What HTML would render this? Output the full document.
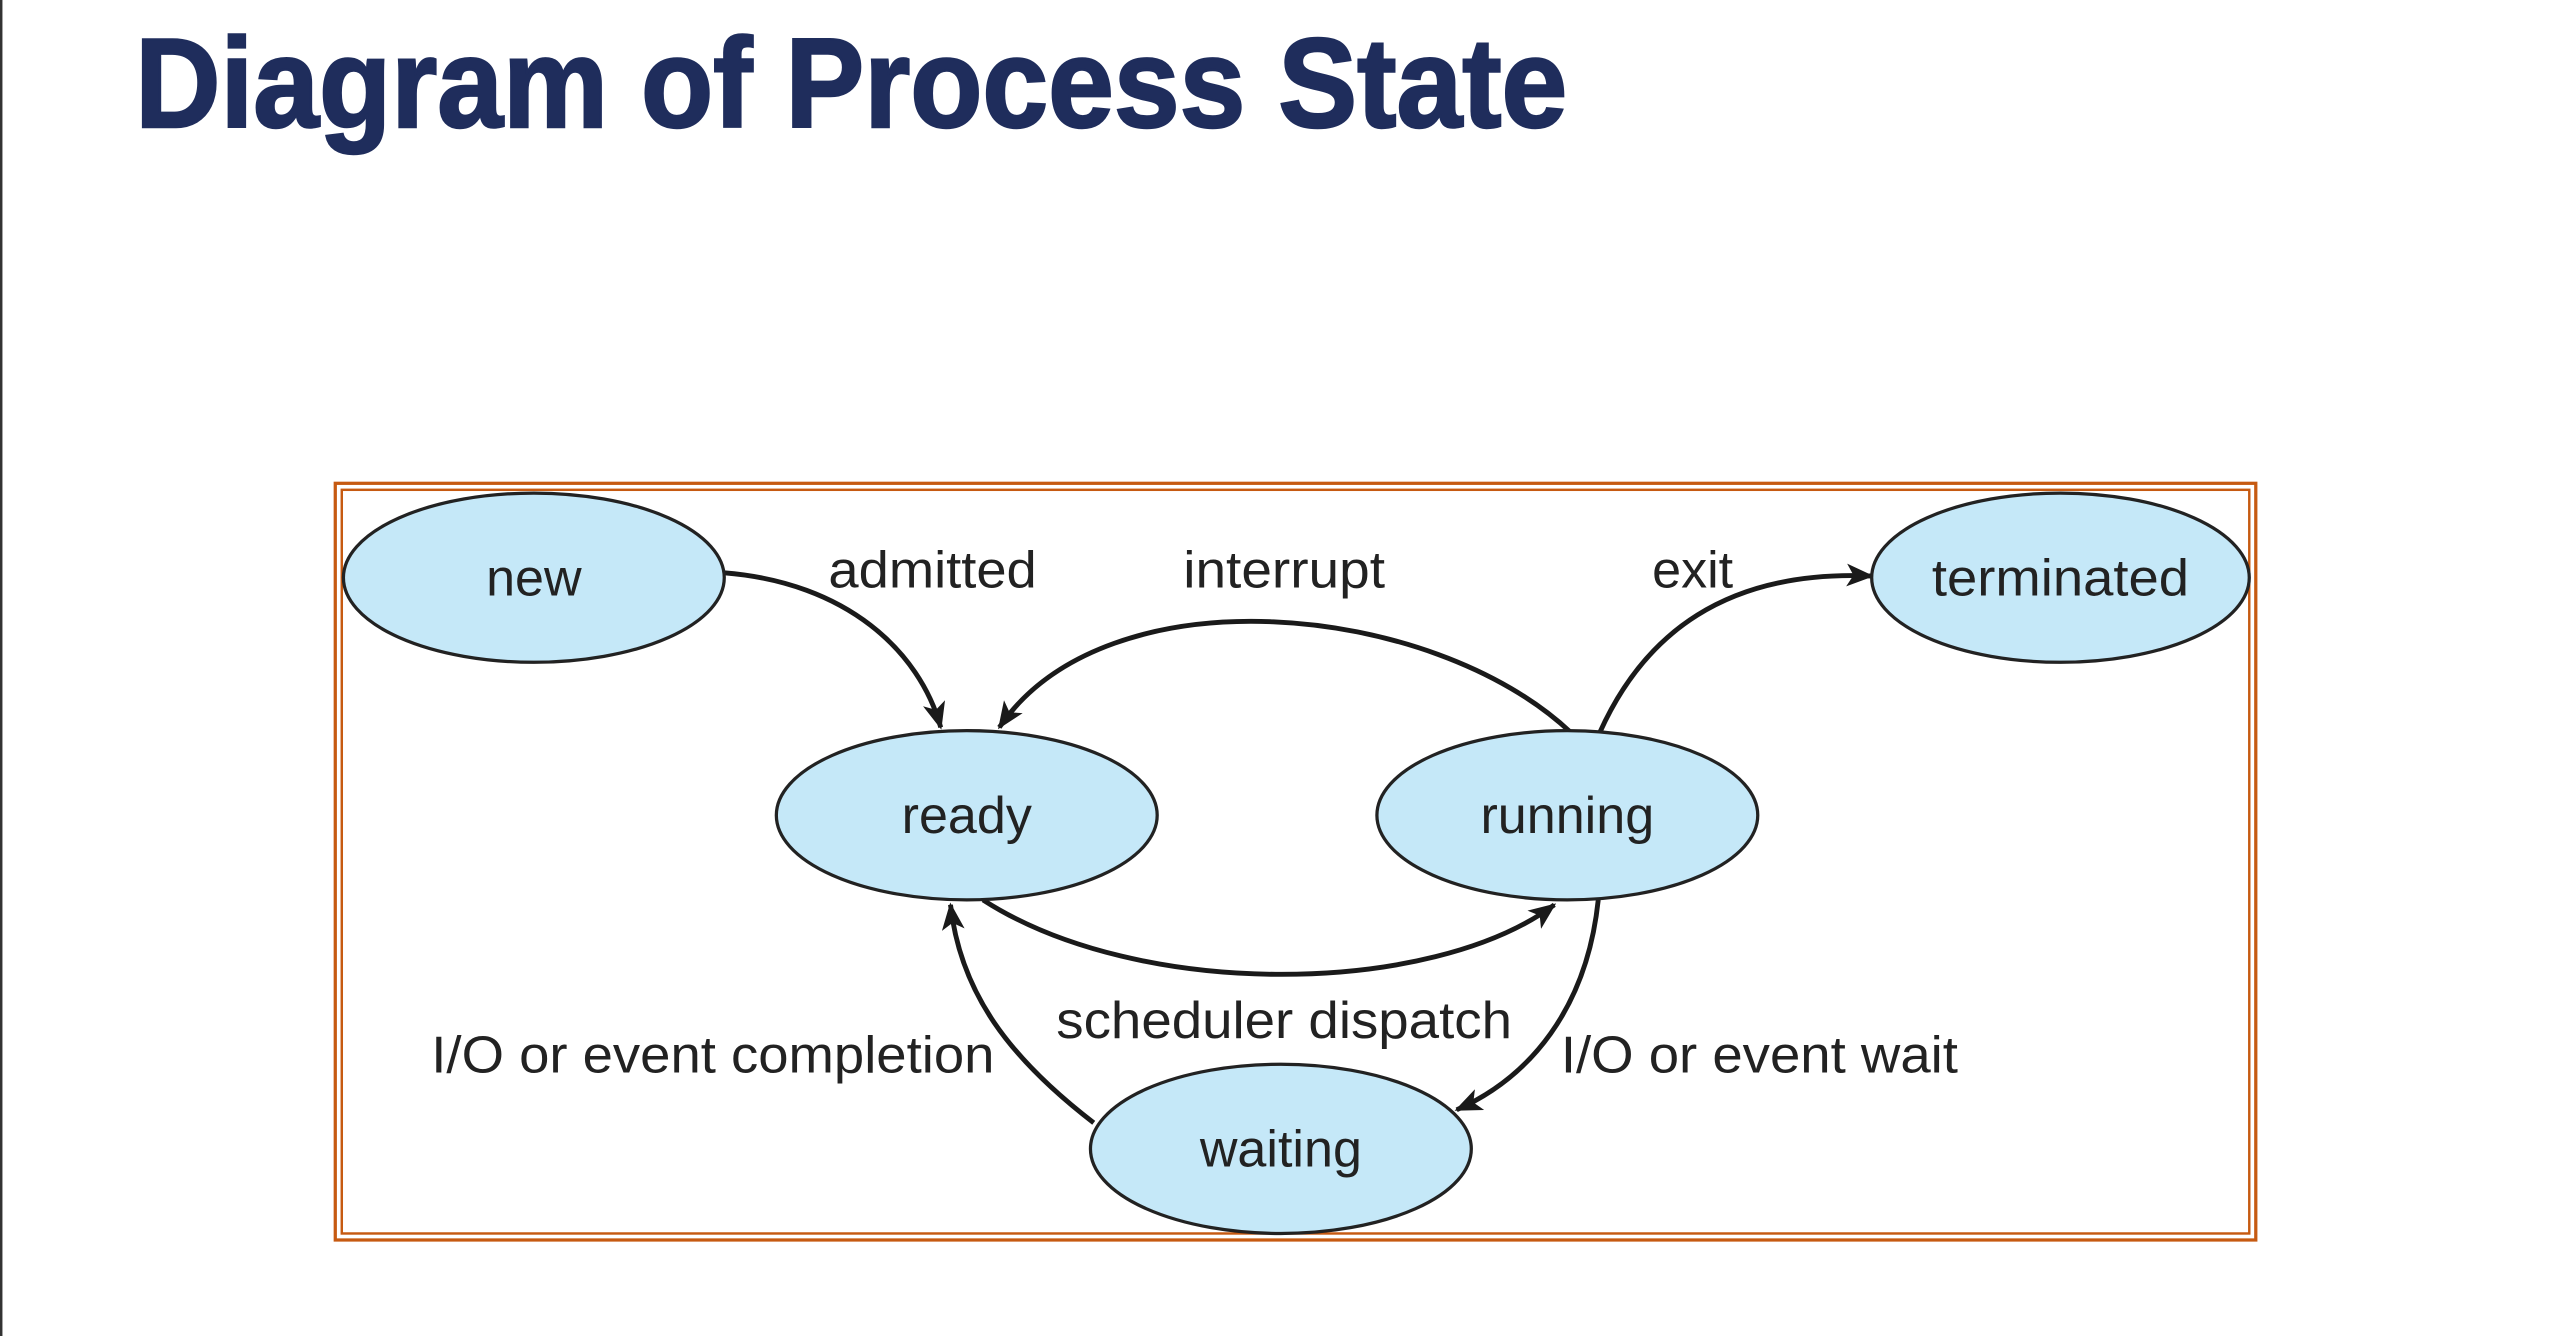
<!DOCTYPE html>
<html><head><meta charset="utf-8"><style>
html,body{margin:0;padding:0;background:#fff;width:2552px;height:1336px;overflow:hidden}
svg{display:block}
</style></head><body>
<svg width="2552" height="1336" viewBox="0 0 1568 821" preserveAspectRatio="none" xmlns="http://www.w3.org/2000/svg">
<defs>
<marker id="a" viewBox="0 0 12 10" refX="11" refY="5" markerWidth="17" markerHeight="14" orient="auto" markerUnits="userSpaceOnUse">
<path d="M0,0 L12,5 L0,10 L3,5 Z" fill="#1a1a1a"/>
</marker>
</defs>
<rect x="0" y="0" width="1.5" height="821" fill="#333"/>
<text x="83" y="78" font-family="Liberation Sans, sans-serif" font-weight="bold" font-size="78" fill="#1f2d5c" stroke="#1f2d5c" stroke-width="1.5" textLength="880" lengthAdjust="spacingAndGlyphs">Diagram of Process State</text>
<rect x="206" y="297" width="1180" height="465" fill="none" stroke="#c65a11" stroke-width="2"/>
<rect x="210" y="301" width="1172" height="457" fill="none" stroke="#c65a11" stroke-width="1.5"/>
<g fill="none" stroke="#1a1a1a" stroke-width="3" marker-end="url(#a)">
<path d="M445,352 C520,358 565,400 578,447"/>
<path d="M965,450 C880,370 680,350 614,447"/>
<path d="M983,450 C1010,390 1060,350 1150,354"/>
<path d="M604,553 C700,615 880,612 955,556"/>
<path d="M982,553 C975,620 940,662 895,682"/>
<path d="M672,690 C620,650 590,610 584,556"/>
</g>
<g fill="#c5e8f8" stroke="#222" stroke-width="2">
<ellipse cx="328" cy="355" rx="117" ry="52"/>
<ellipse cx="594" cy="501" rx="117" ry="52"/>
<ellipse cx="963" cy="501" rx="117" ry="52"/>
<ellipse cx="1266" cy="355" rx="116" ry="52"/>
<ellipse cx="787" cy="706" rx="117" ry="52"/>
</g>
<g font-family="Liberation Sans, sans-serif" font-size="32" fill="#222" text-anchor="middle">
<text x="328" y="366">new</text>
<text x="594" y="512">ready</text>
<text x="963" y="512">running</text>
<text x="1266" y="366" textLength="158" lengthAdjust="spacingAndGlyphs">terminated</text>
<text x="787" y="717">waiting</text>
<text x="573" y="361" textLength="128" lengthAdjust="spacingAndGlyphs">admitted</text>
<text x="789" y="361" textLength="124" lengthAdjust="spacingAndGlyphs">interrupt</text>
<text x="1040" y="361">exit</text>
<text x="789" y="638" textLength="280" lengthAdjust="spacingAndGlyphs">scheduler dispatch</text>
<text x="438" y="659" textLength="346" lengthAdjust="spacingAndGlyphs">I/O or event completion</text>
<text x="1081" y="659" textLength="244" lengthAdjust="spacingAndGlyphs">I/O or event wait</text>
</g>
</svg>
</body></html>
